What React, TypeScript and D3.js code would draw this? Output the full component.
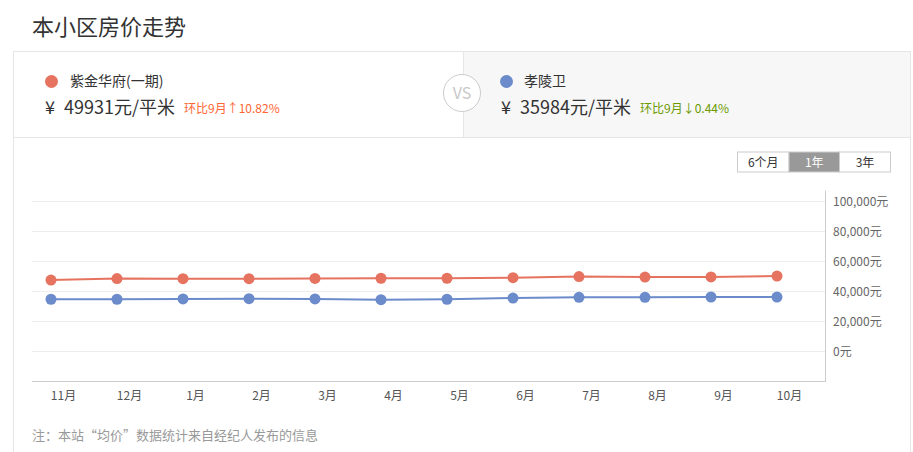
import React from "react";
import * as d3 from "d3";

const months = ["11月", "12月", "1月", "2月", "3月", "4月", "5月", "6月", "7月", "8月", "9月", "10月"];
const seriesA = [47300, 48300, 48200, 48200, 48400, 48500, 48500, 48900, 49600, 49300, 49400, 49931];
const seriesB = [34500, 34500, 34700, 34900, 34700, 34200, 34500, 35300, 35800, 35800, 36000, 35984];
const yTicks = [0, 20000, 40000, 60000, 80000, 100000];
const nameA = "紫金华府(一期)";
const nameB = "孝陵卫";
const priceA = "49931";
const priceB = "35984";
const changeA = "环比9月↑10.82%";
const changeB = "环比9月↓0.44%";
const ranges = ["6个月", "1年", "3年"];

const W = 913;
const H = 452;
const FONT = "'Noto Sans CJK SC', 'Noto Sans', sans-serif";
const RED = "#e5735f";
const BLUE = "#6b8bcb";

export default function App() {
  const x = d3.scalePoint<string>().domain(months).range([51, 777]);
  const y = d3.scaleLinear().domain([0, 100000]).range([351, 201]);
  const line = d3
    .line<number>()
    .x((_, i) => x(months[i]) as number)
    .y((d) => y(d));
  const fmt = d3.format(",");
  const axisBottom = y(-20000);
  const axisTop = 190.5;

  return (
    <svg
      width={W}
      height={H}
      style={{ position: "absolute", left: 0, top: 0, fontFamily: FONT }}
    >
      <rect x={0} y={0} width={W} height={H} fill="#fff" />
      <text x={32} y={35} fontSize={22} fill="#333">本小区房价走势</text>

      {/* cards */}
      <rect x={463} y={51.5} width={448} height={85.5} fill="#f7f7f7" />
      <line x1={13} x2={911} y1={51.5} y2={51.5} stroke="#e6e6e6" />
      <line x1={13} x2={911} y1={137.5} y2={137.5} stroke="#e6e6e6" />
      <line x1={13.5} x2={13.5} y1={51} y2={H} stroke="#e6e6e6" />
      <line x1={910.5} x2={910.5} y1={51} y2={H} stroke="#e6e6e6" />
      <line x1={463.5} x2={463.5} y1={51} y2={137} stroke="#e6e6e6" />
      <circle cx={462} cy={93} r={18.5} fill="#fff" stroke="#ccc" />
      <text x={462} y={99} fontSize={16} fill="#c8c8c8" textAnchor="middle">VS</text>

      <circle cx={51.5} cy={81.5} r={6.5} fill={RED} />
      <text x={70} y={86} fontSize={14} fill="#333">{nameA}</text>
      <text y={114} fontSize={18} fill="#333">
        <tspan x={45}>¥</tspan>
        <tspan x={64}>{`${priceA}元/平米`}</tspan>
      </text>
      <text x={184} y={113} fontSize={12} fill="#ff6633">{changeA}</text>

      <circle cx={506.5} cy={81.5} r={6.5} fill={BLUE} />
      <text x={524} y={86} fontSize={14} fill="#333">{nameB}</text>
      <text y={114} fontSize={18} fill="#333">
        <tspan x={501}>¥</tspan>
        <tspan x={520}>{`${priceB}元/平米`}</tspan>
      </text>
      <text x={640} y={113} fontSize={12} fill="#6c9a00">{changeB}</text>

      {/* range buttons */}
      {ranges.map((r, i) => {
        const bx = [737.5, 789, 839.5][i];
        const bw = [51.5, 50.5, 51][i];
        const active = i === 1;
        return (
          <g key={r}>
            <rect
              x={bx}
              y={152}
              width={bw}
              height={20}
              fill={active ? "#999" : "#fff"}
              stroke="#ccc"
            />
            <text
              x={bx + bw / 2}
              y={166.5}
              fontSize={12}
              textAnchor="middle"
              fill={active ? "#fff" : "#333"}
            >
              {r}
            </text>
          </g>
        );
      })}

      {/* grid */}
      {yTicks.map((t) => (
        <g key={t}>
          <line x1={32} x2={825} y1={y(t) + 0.5} y2={y(t) + 0.5} stroke="#ededed" />
          <text x={833} y={y(t) + 5} fontSize={12} fill="#666">{`${fmt(t)}元`}</text>
        </g>
      ))}
      <line x1={32} x2={826} y1={axisBottom + 0.5} y2={axisBottom + 0.5} stroke="#ccc" />
      <line x1={825.5} x2={825.5} y1={axisTop} y2={axisBottom + 1} stroke="#ccc" />
      {months.map((m) => (
        <text
          key={m}
          x={(x(m) as number) + 12.5}
          y={400}
          fontSize={12}
          fill="#555"
          textAnchor="middle"
        >
          {m}
        </text>
      ))}

      {/* series */}
      <path d={line(seriesA) || ""} fill="none" stroke={RED} strokeWidth={2} />
      <path d={line(seriesB) || ""} fill="none" stroke={BLUE} strokeWidth={2} />
      {seriesA.map((v, i) => (
        <circle key={"a" + i} cx={x(months[i])} cy={y(v)} r={5.5} fill={RED} />
      ))}
      {seriesB.map((v, i) => (
        <circle key={"b" + i} cx={x(months[i])} cy={y(v)} r={5.5} fill={BLUE} />
      ))}

      <text x={32} y={440} fontSize={13} fill="#999">注：本站“均价”数据统计来自经纪人发布的信息</text>
    </svg>
  );
}
